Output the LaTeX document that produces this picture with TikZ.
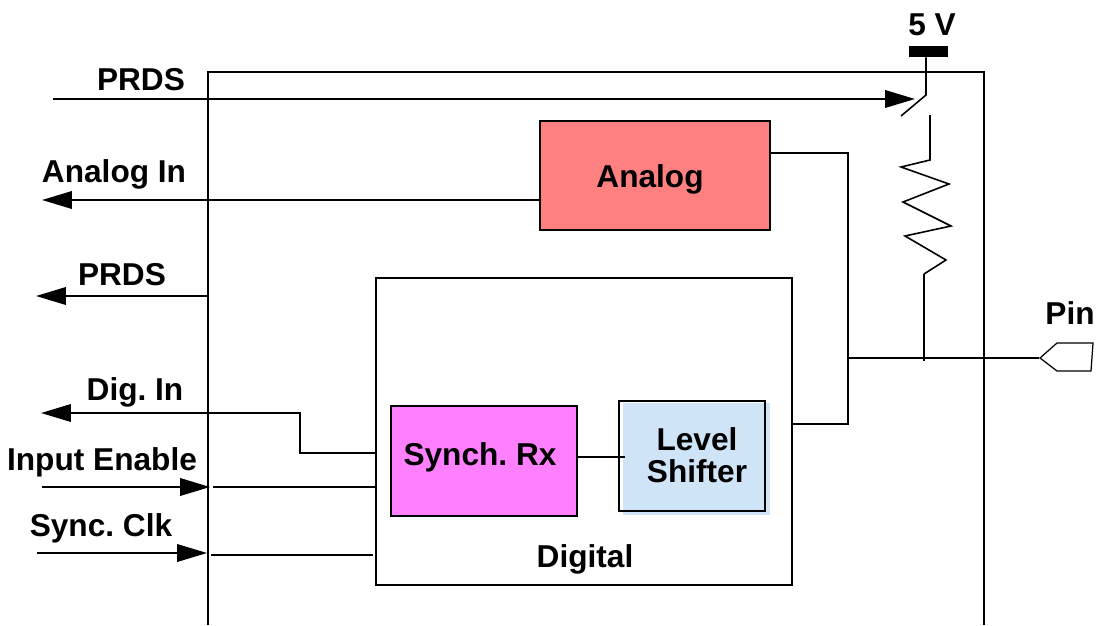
\documentclass[tikz,border=0pt]{standalone}
\usepackage{fontspec}
\setmainfont{Liberation Sans}
\usetikzlibrary{arrows.meta}
\tikzset{
    wire/.style={line width=1.2pt},
    thinwire/.style={line width=0.9pt},
    sig/.style={wire,-{Triangle[length=0.6cm,width=0.35cm]}},
    block/.style={draw,line width=1.4pt,inner sep=0,anchor=north west},
    lab/.style={font=\fontsize{18}{18.2}\selectfont\bfseries,inner sep=0,align=center},
}
\definecolor{analogred}{HTML}{FF8080}
\definecolor{synchpink}{HTML}{FF80FF}
\definecolor{shifterblue}{HTML}{D0E4F8}
\frenchspacing
\begin{document}
\begin{tikzpicture}[x=0.02cm,y=-0.02cm]
    \useasboundingbox (0,0) rectangle (1097,625);
    % outer chip frame, open at the bottom
    \draw[line width=1.4pt] (208,625) -- (208,72) -- (984,72) -- (984,625);
    \fill[shifterblue] (623,403) rectangle (770,515);
    \node[block,fill=analogred,minimum width=4.6cm,minimum height=2.18cm] (analog) at (539,120) {};
    \node[block,minimum width=8.32cm,minimum height=6.14cm] (digital) at (375,277) {};
    \node[block,fill=synchpink,minimum width=3.72cm,minimum height=2.2cm] (synch) at (390,405) {};
    \node[block,minimum width=2.92cm,minimum height=2.2cm] (shifter) at (618,400) {};
    \node[lab] (analoglab) at (650,179) {Analog};
    \node[lab] (synchlab) at (480,457) {Synch. Rx};
    \node[lab] (shifterlab) at (697,455) {Level\\Shifter};
    \node[lab] (digitallab) at (585,559) {Digital};
    \node[lab] (prdstop) at (141,80) {PRDS};
    \node[lab] (analogin) at (114,174) {Analog In};
    \node[lab] (prdsleft) at (122,275) {PRDS};
    \node[lab] (digin) at (135,392) {Dig. In};
    \node[lab] (inputen) at (102,462) {Input Enable};
    \node[lab] (syncclk) at (101,528) {Sync. Clk};
    \node[lab] (five) at (932,25) {5 V};
    \node[lab] (pinlab) at (1070,313) {Pin};
    % supply bar, switch and resistor
    \node[fill=black,inner sep=0,minimum width=0.78cm,minimum height=0.22cm] (rail) at (928.5,51.5) {};
    \coordinate (swtop) at (926,95);
    \coordinate (swend) at (901,116);
    \coordinate (restop) at (930,115);
    \coordinate (resbot) at (924,274);
    \coordinate (tap) at (924,361);
    \coordinate (junction) at (848,358);
    \draw[thinwire] (rail.south -| swtop) -- (swtop) -- (swend);
    \draw[thinwire] (restop) -- (930,160) -- (901,167) -- (949,184) -- (903,202) -- (951,226) -- (905,236) -- (946,260) -- (resbot);
    \draw[wire] (resbot) -- (tap);
    % pin
    \node[inner sep=0] (pinpoint) at (1040,358) {};
    \draw[line width=0.7pt] (pinpoint.center) -- (1057,343) -- (1093,343) -- (1091,371) -- (1057,371) -- cycle;
    \draw[wire] (junction) -- (pinpoint);
    % right side
    \coordinate (analogout) at (771,153);
    \coordinate (digitalout) at (792,424);
    \draw[wire] (analogout) -- (848,153) -- (848,424) -- (digitalout);
    % signals
    \coordinate (prdsstart) at (53,99);
    \coordinate (prdsend) at (915,99);
    \draw[sig] (prdsstart) -- (prdsend);
    \coordinate (analogleft) at (540,200);
    \coordinate (analogend) at (42,200);
    \draw[sig] (analogleft) -- (analogend);
    \coordinate (frameleft) at (208,296);
    \coordinate (prdsout) at (36,296);
    \draw[sig] (frameleft) -- (prdsout);
    \coordinate (synchleft) at (376,453);
    \coordinate (digend) at (41,413);
    \draw[sig] (synchleft) -- (300,453) -- (300,413) -- (digend);
    \coordinate (enstart) at (42,487);
    \coordinate (enend) at (210,487);
    \draw[sig] (enstart) -- (enend);
    \coordinate (enin) at (213,487);
    \coordinate (endig) at (376,487);
    \draw[wire] (enin) -- (endig);
    \coordinate (clkstart) at (37,553);
    \coordinate (clkend) at (207,553);
    \draw[sig] (clkstart) -- (clkend);
    \coordinate (clkin) at (211,555);
    \coordinate (clkdig) at (373,555);
    \draw[wire] (clkin) -- (clkdig);
    \coordinate (shifterin) at (625,457);
    \draw[wire] (synch.east |- shifterin) -- (shifterin);
\end{tikzpicture}
\end{document}
